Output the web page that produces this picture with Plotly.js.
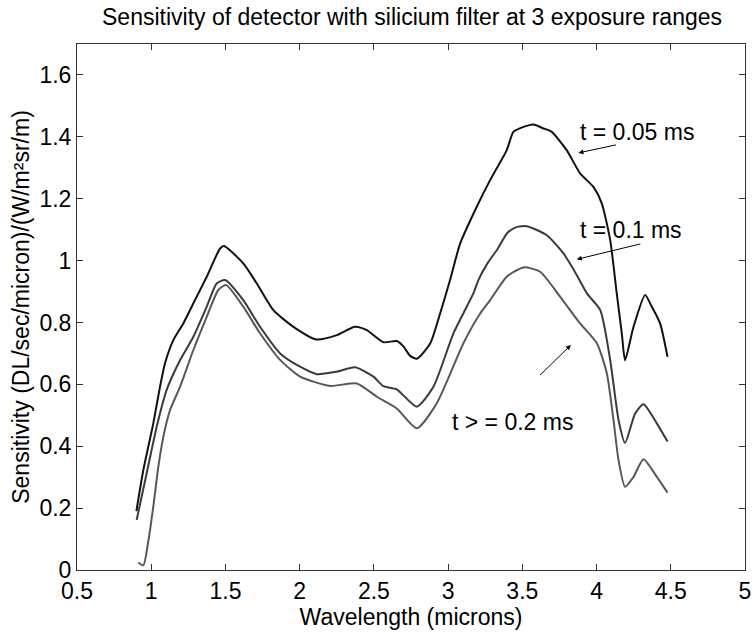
<!DOCTYPE html>
<html>
<head>
<meta charset="utf-8">
<script src="https://cdn.plot.ly/plotly-3.0.1.min.js"></script>
<style>html,body{margin:0;padding:0;background:#fff;}#chart{width:756px;height:632px;}</style>
</head>
<body>
<div id="chart"></div>
<script>
// t = 0.05 ms
const wlA = [0.90,0.947,1.014,1.059,1.093,1.149,1.216,1.284,1.374,1.464,1.49,1.62,1.711,1.823,1.958,2.115,2.25,2.373,2.452,2.564,2.654,2.70,2.744,2.79,2.879,2.946,3.013,3.081,3.193,3.283,3.395,3.44,3.508,3.575,3.643,3.698,3.799,3.889,3.979,4.035,4.092,4.136,4.17,4.192,4.249,4.327,4.372,4.428,4.478];
const sA  = [0.19,0.323,0.474,0.592,0.668,0.743,0.797,0.862,0.948,1.039,1.047,0.991,0.926,0.84,0.786,0.745,0.759,0.786,0.775,0.736,0.74,0.722,0.692,0.683,0.732,0.829,0.937,1.055,1.174,1.26,1.357,1.416,1.432,1.44,1.427,1.416,1.357,1.282,1.238,1.185,1.066,0.894,0.765,0.678,0.786,0.889,0.851,0.797,0.689];
// t = 0.1 ms
const wlB = [0.902,0.969,1.037,1.104,1.194,1.284,1.374,1.441,1.497,1.62,1.733,1.868,2.003,2.115,2.25,2.373,2.497,2.564,2.654,2.789,2.901,3.036,3.17,3.204,3.27,3.33,3.40,3.46,3.53,3.665,3.777,3.867,3.935,4.025,4.092,4.148,4.192,4.26,4.316,4.406,4.478];
const sB  = [0.162,0.312,0.463,0.582,0.678,0.754,0.851,0.926,0.937,0.872,0.786,0.70,0.657,0.633,0.641,0.655,0.625,0.594,0.584,0.528,0.592,0.765,0.894,0.937,0.995,1.035,1.09,1.108,1.111,1.082,1.023,0.953,0.894,0.84,0.678,0.485,0.411,0.506,0.536,0.474,0.415];
// t >= 0.2 ms
const wlC = [0.913,0.947,0.98,1.014,1.048,1.082,1.127,1.194,1.284,1.374,1.452,1.504,1.62,1.733,1.868,2.003,2.205,2.385,2.52,2.654,2.789,2.924,3.103,3.216,3.283,3.395,3.508,3.62,3.755,3.889,4.002,4.069,4.114,4.148,4.192,4.249,4.316,4.406,4.478];
const sC  = [0.024,0.015,0.092,0.205,0.334,0.431,0.517,0.592,0.711,0.818,0.905,0.921,0.851,0.765,0.679,0.625,0.595,0.603,0.56,0.522,0.458,0.539,0.733,0.829,0.872,0.948,0.978,0.964,0.883,0.797,0.733,0.636,0.485,0.355,0.269,0.301,0.358,0.301,0.25];

const labels = ['t = 0.05 ms','t = 0.1 ms','t > = 0.2 ms'];
const labelPos = [[3.876,1.415],[3.876,1.098],[3.013,0.478]];
const arrowTail = [[4.141,1.375],[4.305,1.055],[3.609,0.625]];
const arrowHead = [[3.878,1.348],[3.867,1.004],[3.827,0.727]];

const FONT = 'Liberation Sans, Arial, Helvetica, sans-serif';
const FS = 23;
const mk = (x,y,c)=>({x:x,y:y,type:'scatter',mode:'lines',line:{color:c,width:2,shape:'spline',smoothing:0.6},hoverinfo:'skip',showlegend:false});
const traces = [mk(wlA,sA,'#111111'), mk(wlB,sB,'#3a3a3a'), mk(wlC,sC,'#585858')];

const ann = [];
for (let i=0;i<3;i++){
  ann.push({x:labelPos[i][0],y:labelPos[i][1],xref:'x',yref:'y',text:labels[i],showarrow:false,xanchor:'left',yanchor:'middle',font:{family:FONT,size:FS,color:'#000'}});
  ann.push({x:arrowHead[i][0],y:arrowHead[i][1],ax:arrowTail[i][0],ay:arrowTail[i][1],xref:'x',yref:'y',axref:'x',ayref:'y',text:'',showarrow:true,arrowhead:2,arrowsize:1,arrowwidth:1,arrowcolor:'#000'});
}

const axisCommon = {showgrid:false,zeroline:false,showline:true,linecolor:'#333',linewidth:1,mirror:'ticks',ticks:'inside',ticklen:6,tickcolor:'#333',tickfont:{family:FONT,size:FS,color:'#000'},automargin:false};
const layout = {
  width:756,height:632,
  margin:{l:77,r:11,t:44,b:62},
  paper_bgcolor:'#fff',plot_bgcolor:'#fff',
  title:{text:'Sensitivity of detector with silicium filter at 3 exposure ranges',font:{family:FONT,size:FS,color:'#000'},x:0.545,xanchor:'center',y:0.973,yanchor:'middle'},
  xaxis:Object.assign({},axisCommon,{range:[0.5,5],tickmode:'array',tickvals:[0.5,1,1.5,2,2.5,3,3.5,4,4.5,5],ticktext:['0.5','1','1.5','2','2.5','3','3.5','4','4.5','5'],title:{text:'Wavelength (microns)',font:{family:FONT,size:FS,color:'#000'},standoff:6}}),
  yaxis:Object.assign({},axisCommon,{range:[0,1.7],tickmode:'array',tickvals:[0,0.2,0.4,0.6,0.8,1,1.2,1.4,1.6],ticktext:['0','0.2','0.4','0.6','0.8','1','1.2','1.4','1.6'],title:{text:'Sensitivity (DL/sec/micron)/(W/m²sr/m)',font:{family:FONT,size:FS,color:'#000'},standoff:3}}),
  annotations:ann
};
Plotly.newPlot('chart',traces,layout,{displayModeBar:false,staticPlot:true});
</script>
</body>
</html>
